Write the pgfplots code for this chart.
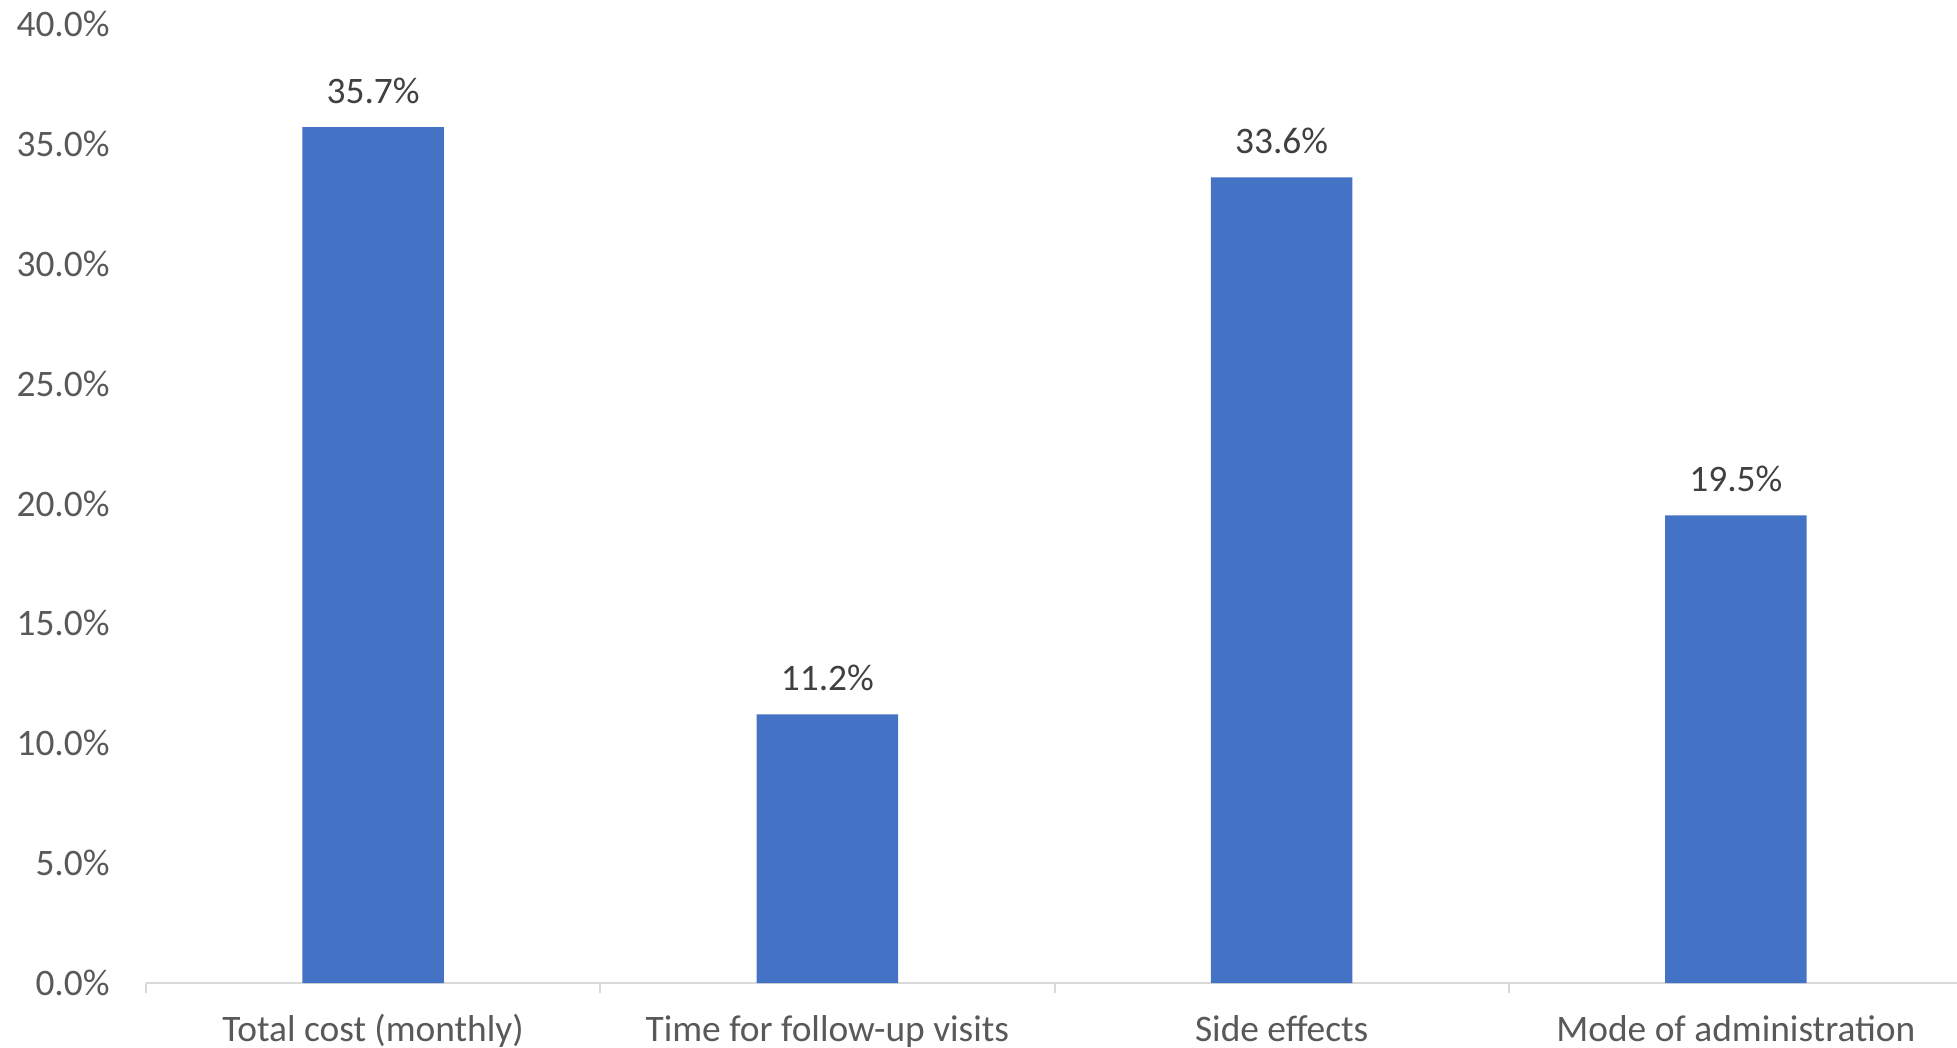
\documentclass[border=0pt]{standalone}
\usepackage{pgfplots}
\pgfplotsset{compat=1.18}
\usetikzlibrary{calc}
\usepackage{fontspec}
\setmainfont{Carlito}
\definecolor{barblue}{HTML}{4472C4}
\definecolor{ticklab}{HTML}{595959}
\definecolor{datalab}{HTML}{404040}
\definecolor{axgray}{HTML}{D9D9D9}
\begin{document}
\begin{tikzpicture}
\begin{axis}[
  name=ax,
  scale only axis,
  width=908.5pt, height=479.5pt,
  xmin=-0.5, xmax=3.5, ymin=0, ymax=40,
  axis x line*=bottom, axis y line*=left,
  y axis line style={draw=none},
  x axis line style={axgray, line width=1pt},
  /pgf/number format/assume math mode=true,
  xtick={0,1,2,3},
  xticklabels={Total cost (monthly), Time for follow-up visits, Side effects, Mode of administration},
  minor xtick={-0.5,0.5,1.5,2.5,3.5},
  tick align=outside,
  major tick length=0pt,
  minor tick length=5pt,
  every minor tick/.append style={axgray, line width=1pt},
  every major tick/.append style={draw=none},
  ytick={0,5,...,40},
  yticklabel={\pgfmathprintnumber[fixed,fixed zerofill,precision=1]{\tick}\%},
  ticklabel style={font=\fontsize{18.7}{22}\selectfont, color=ticklab},
  xticklabel style={anchor=base, inner sep=0pt, yshift=-29.25pt},
  yticklabel style={anchor=east, inner sep=0pt, xshift=-18pt},
  ybar, bar width=70.7pt,
  nodes near coords={\pgfmathprintnumber[fixed,fixed zerofill,precision=1]{\pgfplotspointmeta}\%},
  nodes near coords style={font=\fontsize{18.7}{22}\selectfont, color=datalab, anchor=base, inner sep=0pt, yshift=11.75pt},
  clip=false,
]
\addplot[fill=barblue, draw=none] coordinates {(0,35.7) (1,11.2) (2,33.6) (3,19.5)};
\end{axis}
\pgfresetboundingbox
\path ($(ax.south west)+(-73pt,-32.5pt)$) rectangle ($(ax.south west)+(905.5pt,491.5pt)$);
\end{tikzpicture}
\end{document}
